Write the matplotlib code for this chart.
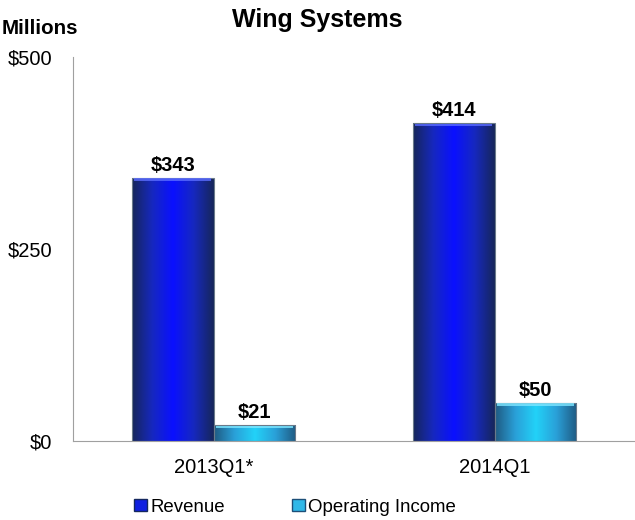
import matplotlib.pyplot as plt
import numpy as np
from matplotlib.colors import LinearSegmentedColormap
from matplotlib.patches import Rectangle, Patch

plt.rcParams['font.family'] = ['Liberation Sans', 'DejaVu Sans']

categories = ['2013Q1*', '2014Q1']
revenue = [343, 414]
op_income = [21, 50]
yticks = [0, 250, 500]

fig = plt.figure(figsize=(6.35, 5.2), dpi=100)
ax = fig.add_axes([0.115, 0.152, 0.885, 0.738])

x = np.arange(len(categories))
w = 0.29

rev_cmap = LinearSegmentedColormap.from_list('rev', ['#16265a', '#1628c0', '#0a10ff', '#1628c0', '#16265a'])
oi_cmap = LinearSegmentedColormap.from_list('oi', ['#1f5a82', '#2aa0d8', '#22d2f8', '#2aa0d8', '#1f5a82'])

bars_r = ax.bar(x - w / 2, revenue, w, color='none', edgecolor='none', label='Revenue')
bars_o = ax.bar(x + w / 2, op_income, w, color='none', edgecolor='none', label='Operating Income')

# gradient fill clipped to each bar
grad = np.linspace(0, 1, 256).reshape(1, -1)
for bars, cmap, top in [(bars_r, rev_cmap, '#5a6cff'), (bars_o, oi_cmap, '#7fe6ff')]:
    for b in bars:
        x0, y0, bw, bh = b.get_x(), b.get_y(), b.get_width(), b.get_height()
        im = ax.imshow(grad, cmap=cmap, aspect='auto', extent=[x0, x0 + bw, y0, y0 + bh], zorder=2)
        clip = Rectangle((x0, y0), bw, bh, transform=ax.transData, facecolor='none')
        im.set_clip_path(clip)
        ax.add_patch(Rectangle((x0, y0), bw, bh, facecolor='none', edgecolor='#6a7a8a', lw=0.8, zorder=3))
        ax.add_patch(Rectangle((x0 + bw * 0.03, y0 + bh - 4), bw * 0.94, 3, facecolor=top,
                               edgecolor='none', alpha=0.8, zorder=3))
        ax.text(x0 + bw / 2, y0 + bh + 4, f'${b.get_height():.0f}', ha='center', va='bottom',
                fontsize=14.5, fontweight='bold', zorder=4)

ax.set_xlim(-0.5, 1.5)
ax.set_ylim(0, 500)
ax.set_xticks(x)
ax.set_xticklabels(categories, fontsize=14.5)
ax.set_yticks(yticks)
ax.set_yticklabels([f'${v}' for v in yticks], fontsize=14.5)
ax.tick_params(axis='x', length=0, pad=12)
ax.tick_params(axis='y', length=0, pad=15)
for s in ['top', 'right']:
    ax.spines[s].set_visible(False)
ax.spines['left'].set_color('#a0a0a0')
ax.spines['bottom'].set_color('#a0a0a0')

fig.text(0.5, 0.962, 'Wing Systems', ha='center', va='center', fontsize=18, fontweight='bold')
fig.text(0.003, 0.946, 'Millions', ha='left', va='center', fontsize=14.8, fontweight='bold')

handles = [Patch(facecolor='#1020e0', edgecolor='#15285e'), Patch(facecolor='#30b8e8', edgecolor='#1d4f78')]
fig.legend(handles, ['Revenue', 'Operating Income'], loc='center', bbox_to_anchor=(0.465, 0.025),
           ncol=2, frameon=False, fontsize=13.4, handlelength=0.67, handleheight=0.67,
           handletextpad=0.2, columnspacing=3.6, borderaxespad=0, borderpad=0)

fig.savefig('out.png', dpi=100, facecolor='white')
